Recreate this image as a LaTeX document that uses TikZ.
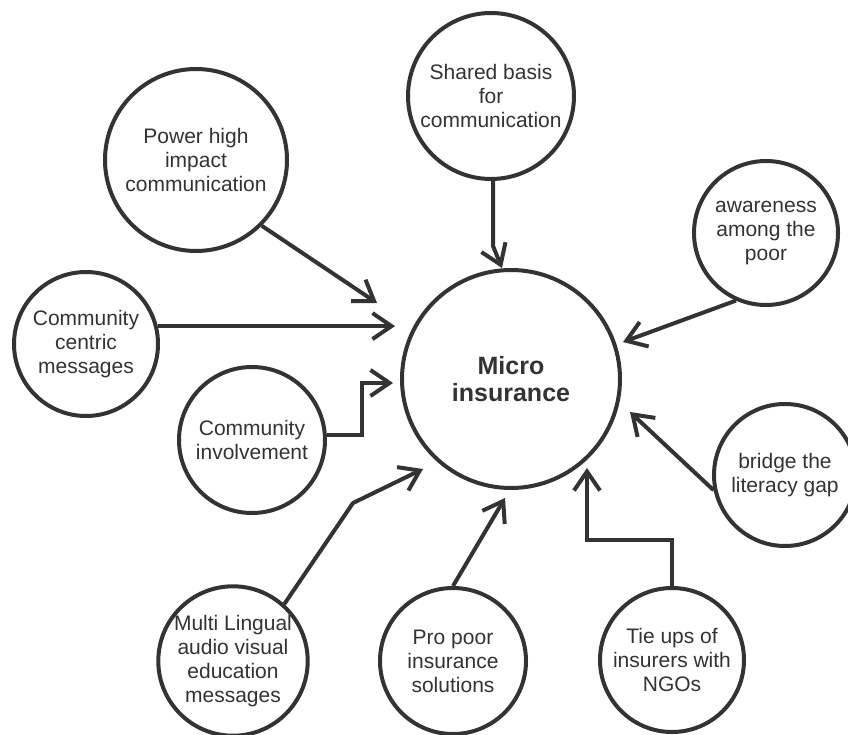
\documentclass[tikz,border=0pt]{standalone}
\usepackage{fontspec}
\setmainfont{Liberation Sans}
\usetikzlibrary{arrows.meta}
\definecolor{ink}{HTML}{333333}
\begin{document}
\begin{tikzpicture}[x=1pt,y=-1pt,
  bubble/.style={circle,draw=ink,line width=4pt,inner sep=0pt,align=center,
    text=ink,font=\fontsize{21}{24}\selectfont},
  arr/.style={draw=ink,line width=4pt,line join=miter,
    -{Straight Barb[length=19pt,width=26pt]}}]
\useasboundingbox (0,0) rectangle (848,735);
\fill[white] (0,0) rectangle (848,735);

\node[bubble,minimum size=218pt,font=\bfseries\fontsize{25}{27}\selectfont] (micro) at (511,379) {Micro\\insurance};
\node[bubble,minimum size=166pt] (shared) at (491,96) {Shared basis\\for\\communication};
\node[bubble,minimum size=182pt] (power) at (196,160) {Power high\\impact\\communication};
\node[bubble,minimum size=144pt] (cc) at (86,344) {Community\\centric\\messages};
\node[bubble,minimum size=146pt] (ci) at (252,440) {Community\\involvement};
\node[bubble,minimum size=144pt] (aw) at (766,233) {awareness\\among the\\poor};
\node[bubble,minimum size=142pt] (br) at (785,475) {bridge the\\literacy gap};
\node[bubble,minimum size=144pt] (tie) at (672,660) {Tie ups of\\insurers with\\NGOs};
\node[bubble,minimum size=146pt] (pro) at (453,661) {Pro poor\\insurance\\solutions};
\node[bubble,minimum size=146pt] (multi) at (233,661) {Multi Lingual\\audio visual\\education\\messages};

\coordinate (sb) at (493,246);
\coordinate (sharedtip) at (502,268);
\coordinate (powertip) at (377,303);
\coordinate (cctip) at (395,327);
\coordinate (cib) at (362,383);
\coordinate (citip) at (393,383);
\coordinate (awtip) at (623,342);
\coordinate (brtip) at (630,412);
\coordinate (tb) at (587,540);
\coordinate (tietip) at (587,468);
\coordinate (protip) at (505,498);
\coordinate (mb) at (353,503);
\coordinate (multitip) at (423,469);

\draw[arr] (shared.south -| sb) -- (sb) -- (sharedtip);
\draw[arr] (power.-45) -- (powertip);
\draw[arr] (cc.14) -- (cc.14 -| cctip);
\draw[arr] (ci.4) -| (cib) -- (citip);
\draw[arr] (aw.-114) -- (awtip);
\draw[arr] (br.192) -- (brtip);
\draw[arr] (tie.north) |- (tb) -- (tietip);
\draw[arr] (pro.north) -- (protip);
\draw[arr] (multi.48) -- (mb) -- (multitip);
\end{tikzpicture}
\end{document}
